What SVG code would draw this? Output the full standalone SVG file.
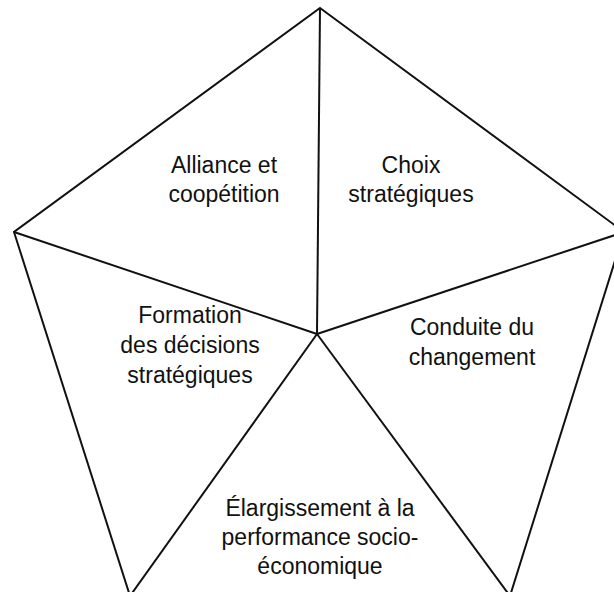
<svg xmlns="http://www.w3.org/2000/svg" width="614" height="592" viewBox="0 0 614 592">
<style>
.l{font-family:"Liberation Sans",Arial,sans-serif;font-size:23px;fill:#111;text-anchor:middle}
.e{stroke:#111;stroke-width:2;fill:none;stroke-linejoin:miter}
</style>
<rect width="614" height="592" fill="#fff"/>
<g id="connectors">
<polygon class="e" points="320,8 624,232 510,596 130,596 14,232"/>
<line class="e" x1="320" y1="8" x2="317" y2="334"/>
<line class="e" x1="14" y1="232" x2="317" y2="334"/>
<line class="e" x1="624" y1="232" x2="317" y2="334"/>
<line class="e" x1="130" y1="596" x2="317" y2="334"/>
<line class="e" x1="510" y1="596" x2="317" y2="334"/>
</g>
<g id="alliance"><text class="l" x="224" y="172.5">Alliance et</text><text class="l" x="224" y="202">coopétition</text></g>
<g id="choix"><text class="l" x="411" y="172.5">Choix</text><text class="l" x="411" y="202">stratégiques</text></g>
<g id="formation"><text class="l" x="190" y="323">Formation</text><text class="l" x="190" y="353">des décisions</text><text class="l" x="190" y="383">stratégiques</text></g>
<g id="conduite"><text class="l" x="472" y="335">Conduite du</text><text class="l" x="472" y="365">changement</text></g>
<g id="elargissement"><text class="l" x="320" y="516">Élargissement à la</text><text class="l" x="320" y="545">performance socio-</text><text class="l" x="320" y="574">économique</text></g>
</svg>
